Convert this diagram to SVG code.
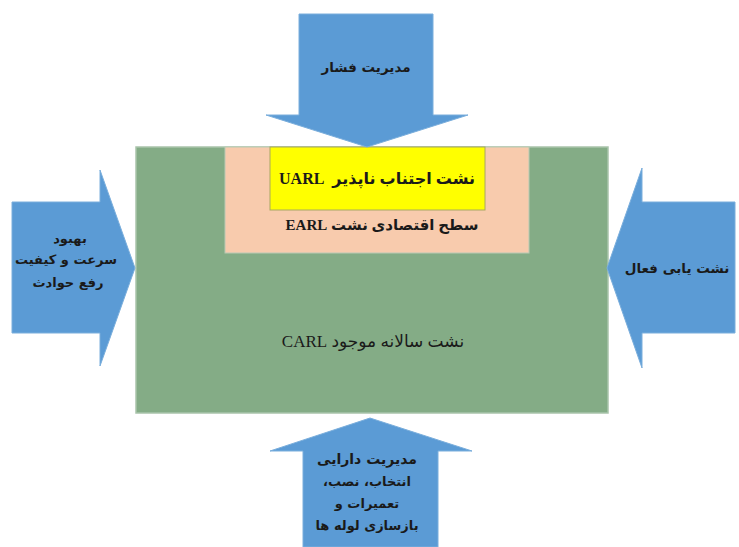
<svg xmlns="http://www.w3.org/2000/svg" width="739" height="547" viewBox="0 0 739 547">
<style>
.arrow{fill:#5b9bd5;stroke:#7aaedc;stroke-width:1}
.t{font-family:"DejaVu Sans",sans-serif;font-weight:bold;fill:#1a1a1a;text-anchor:middle;direction:rtl}
.m{font-family:"Liberation Serif","DejaVu Sans",serif;fill:#1a1a1a;text-anchor:middle;direction:rtl}
</style>
<rect width="739" height="547" fill="#ffffff"/>
<g id="carl">
<rect x="136" y="147" width="472" height="266" fill="#84ac86" stroke="#a9c4ab" stroke-width="1.5"/>
<text class="m" x="373" y="347" font-size="17">نشت سالانه موجود CARL</text>
</g>
<g id="earl">
<rect x="225" y="147" width="304" height="106" fill="#f8cbad" stroke="#b9c9b4" stroke-width="1"/>
<text class="m" x="382" y="230" font-size="15" font-weight="bold">سطح اقتصادی نشت EARL</text>
</g>
<g id="uarl">
<rect x="270" y="147" width="215" height="63" fill="#ffff00" stroke="#a8a860" stroke-width="1"/>
<text class="m" x="377" y="184" font-size="16" font-weight="bold" xml:space="preserve">نشت اجتناب ناپذیر  UARL</text>
</g>
<g id="connectors">
<g id="top-arrow">
<polygon class="arrow" points="299,14 433,14 433,115 468,115 367,147 266,115 299,115"/>
<text class="t" x="366" y="72" font-size="13.5">مدیریت فشار</text>
</g>
<g id="left-arrow">
<polygon class="arrow" points="12,202 100,202 100,170 135,268 100,366 100,333 12,333"/>
<text class="t" x="70" y="243" font-size="13">بهبود</text>
<text class="t" x="66" y="264" font-size="13">سرعت و کیفیت</text>
<text class="t" x="68" y="287" font-size="13">رفع حوادث</text>
</g>
<g id="right-arrow">
<polygon class="arrow" points="735,202 642,202 642,168 607,268 642,368 642,333 735,333"/>
<text class="t" x="677" y="273" font-size="13.5">نشت یابی فعال</text>
</g>
<g id="bottom-arrow">
<polygon class="arrow" points="303,547 303,451 270,451 370,418 472,451 438,451 438,547"/>
<text class="t" x="367" y="464" font-size="14">مدیریت دارایی</text>
<text class="t" x="367" y="486" font-size="13">انتخاب، نصب،</text>
<text class="t" x="367" y="508" font-size="13">تعمیرات و</text>
<text class="t" x="367" y="530" font-size="13">بازسازی لوله ها</text>
</g>
</g>
</svg>
